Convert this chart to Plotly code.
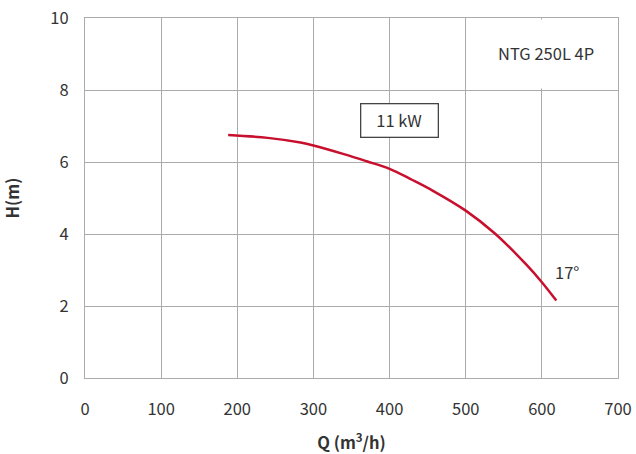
import plotly.graph_objects as go

# Pump curve data (Q in m3/h, H in m)
q_values = [188, 240, 283, 300, 340, 370, 400, 430, 457, 500, 538, 580, 600, 619]
h_values = [6.75, 6.67, 6.54, 6.46, 6.22, 6.02, 5.81, 5.50, 5.20, 4.65, 4.02, 3.14, 2.66, 2.15]

x_ticks = [0, 100, 200, 300, 400, 500, 600, 700]
y_ticks = [0, 2, 4, 6, 8, 10]

model_label = "NTG 250L 4P"
power_label = "11 kW"
angle_label = "17°"

FONT = "Noto Sans CJK SC"
GRID = "#ababab"
TXT = "#333333"
FS = 16.5

fig = go.Figure()
fig.add_trace(go.Scatter(
    x=q_values, y=h_values, mode="lines",
    line=dict(color="#c8102e", width=2.5, shape="spline", smoothing=1.0),
    showlegend=False, hoverinfo="skip",
))

# mask the 600 gridline in the title cell
fig.add_shape(type="rect", xref="x", yref="y", x0=502, x1=698, y0=8.04, y1=9.96,
              fillcolor="white", line=dict(width=0), layer="between")

fig.add_annotation(x=606, y=9.02, text=model_label, showarrow=False,
                   font=dict(family=FONT, size=FS, color=TXT))
fig.add_annotation(x=412.5, y=7.15, text=power_label, showarrow=False,
                   font=dict(family=FONT, size=FS, color=TXT),
                   bordercolor="#444444", borderwidth=1.3, borderpad=4,
                   width=68, bgcolor="white")
fig.add_annotation(x=633, y=2.95, text=angle_label, showarrow=False,
                   font=dict(family=FONT, size=FS, color=TXT))

fig.update_xaxes(
    range=[0, 700], tickvals=x_ticks, ticktext=[str(v) for v in x_ticks],
    showgrid=True, gridcolor=GRID, gridwidth=1.3,
    showline=True, mirror=True, linecolor=GRID, linewidth=1.3,
    zeroline=False, ticks="", ticklabelstandoff=16, automargin=False,
    ticklabeloverflow="allow",
    tickfont=dict(family=FONT, size=FS, color=TXT),
    title=dict(text="<b>Q (m<sup>3</sup>/h)</b>", standoff=19,
               font=dict(family=FONT, size=FS, color=TXT)),
)
fig.update_yaxes(
    range=[0, 10], tickvals=y_ticks, ticktext=[str(v) for v in y_ticks],
    showgrid=True, gridcolor=GRID, gridwidth=1.3,
    showline=True, mirror=True, linecolor=GRID, linewidth=1.3,
    zeroline=False, ticks="", ticklabelstandoff=12, automargin=False,
    ticklabeloverflow="allow",
    tickfont=dict(family=FONT, size=FS, color=TXT),
    title=dict(text="<b>H(m)</b>", standoff=30,
               font=dict(family=FONT, size=FS, color=TXT)),
)

fig.update_layout(
    width=636, height=454,
    margin=dict(l=85, r=18, t=18, b=76),
    paper_bgcolor="white", plot_bgcolor="white",
)

fig.write_html(
    "out.html",
    config={"displayModeBar": False},
    post_script="document.body.style.margin='0';document.body.style.overflow='hidden';",
)
